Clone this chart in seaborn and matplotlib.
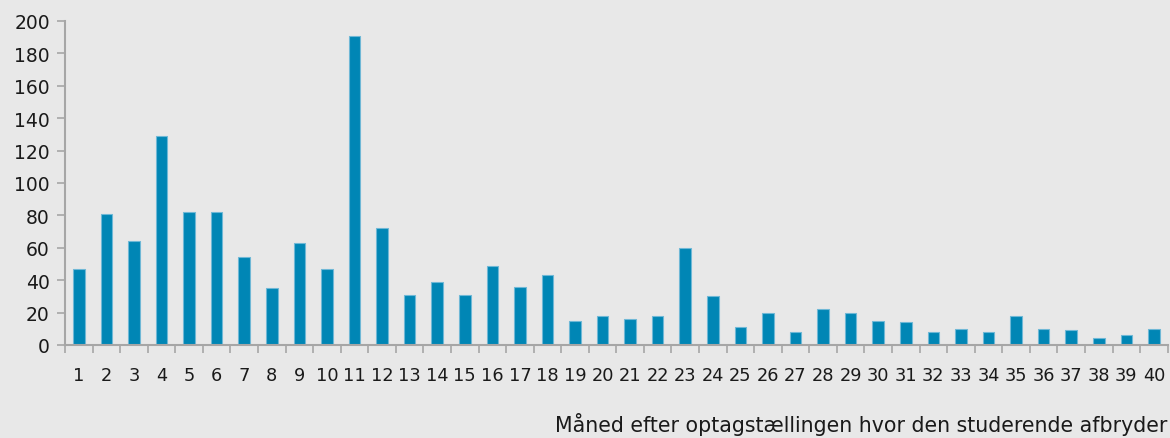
import matplotlib
matplotlib.use("Agg")
import matplotlib.pyplot as plt
import seaborn as sns
import pandas as pd
import numpy as np

months = [str(i) for i in range(1, 41)]
counts = [47, 81, 64, 129, 82, 82, 54, 35, 63, 47,
          191, 72, 31, 39, 31, 49, 36, 43, 15, 18,
          16, 18, 60, 30, 11, 20, 8, 22, 20, 15,
          14, 8, 10, 8, 18, 10, 9, 4, 6, 10]
y_ticks = [0, 20, 40, 60, 80, 100, 120, 140, 160, 180, 200]
xlabel = "Måned efter optagstællingen hvor den studerende afbryder"

sns.set_theme(style="white")
plt.rcParams['font.family'] = ['DejaVu Sans']

bg = "#e8e8e8"
fig = plt.figure(figsize=(11.7, 4.39), dpi=100, facecolor=bg)
ax = fig.add_axes([0.0556, 0.212, 0.9424, 0.738])
ax.set_facecolor(bg)

df = pd.DataFrame({"month": months, "count": counts})
sns.barplot(data=df, x="month", y="count", color="#0086b5", width=0.42,
            edgecolor="#6fb8d6", linewidth=0.8, saturation=1, ax=ax)

ax.set_xlim(-0.5, len(months) - 0.5)
ax.set_ylim(0, 200)
ax.set_yticks(y_ticks)
ax.set_yticklabels([str(v) for v in y_ticks], fontsize=13.5, color="#1a1a1a")

ax.set_xticks(np.arange(len(months)))
ax.set_xticklabels(months, fontsize=12.8, color="#1a1a1a")
ax.tick_params(axis="x", which="major", length=0, pad=15)
ax.set_xticks(np.arange(len(months) + 1) - 0.5, minor=True)
ax.tick_params(axis="x", which="minor", length=6, width=1.2, color="#a6a6a6", direction="out", bottom=True)
ax.tick_params(axis="y", which="major", length=6, width=1.2, color="#a6a6a6", direction="out", left=True, pad=5)

for s in ["top", "right"]:
    ax.spines[s].set_visible(False)
for s in ["left", "bottom"]:
    ax.spines[s].set_color("#a6a6a6")
    ax.spines[s].set_linewidth(1.5)

ax.set_ylabel("")
ax.set_xlabel("")
fig.text(0.998, 0.017, xlabel, ha="right", va="baseline", fontsize=14.8, color="#1a1a1a")

fig.savefig("out.png", dpi=100, facecolor=bg)
